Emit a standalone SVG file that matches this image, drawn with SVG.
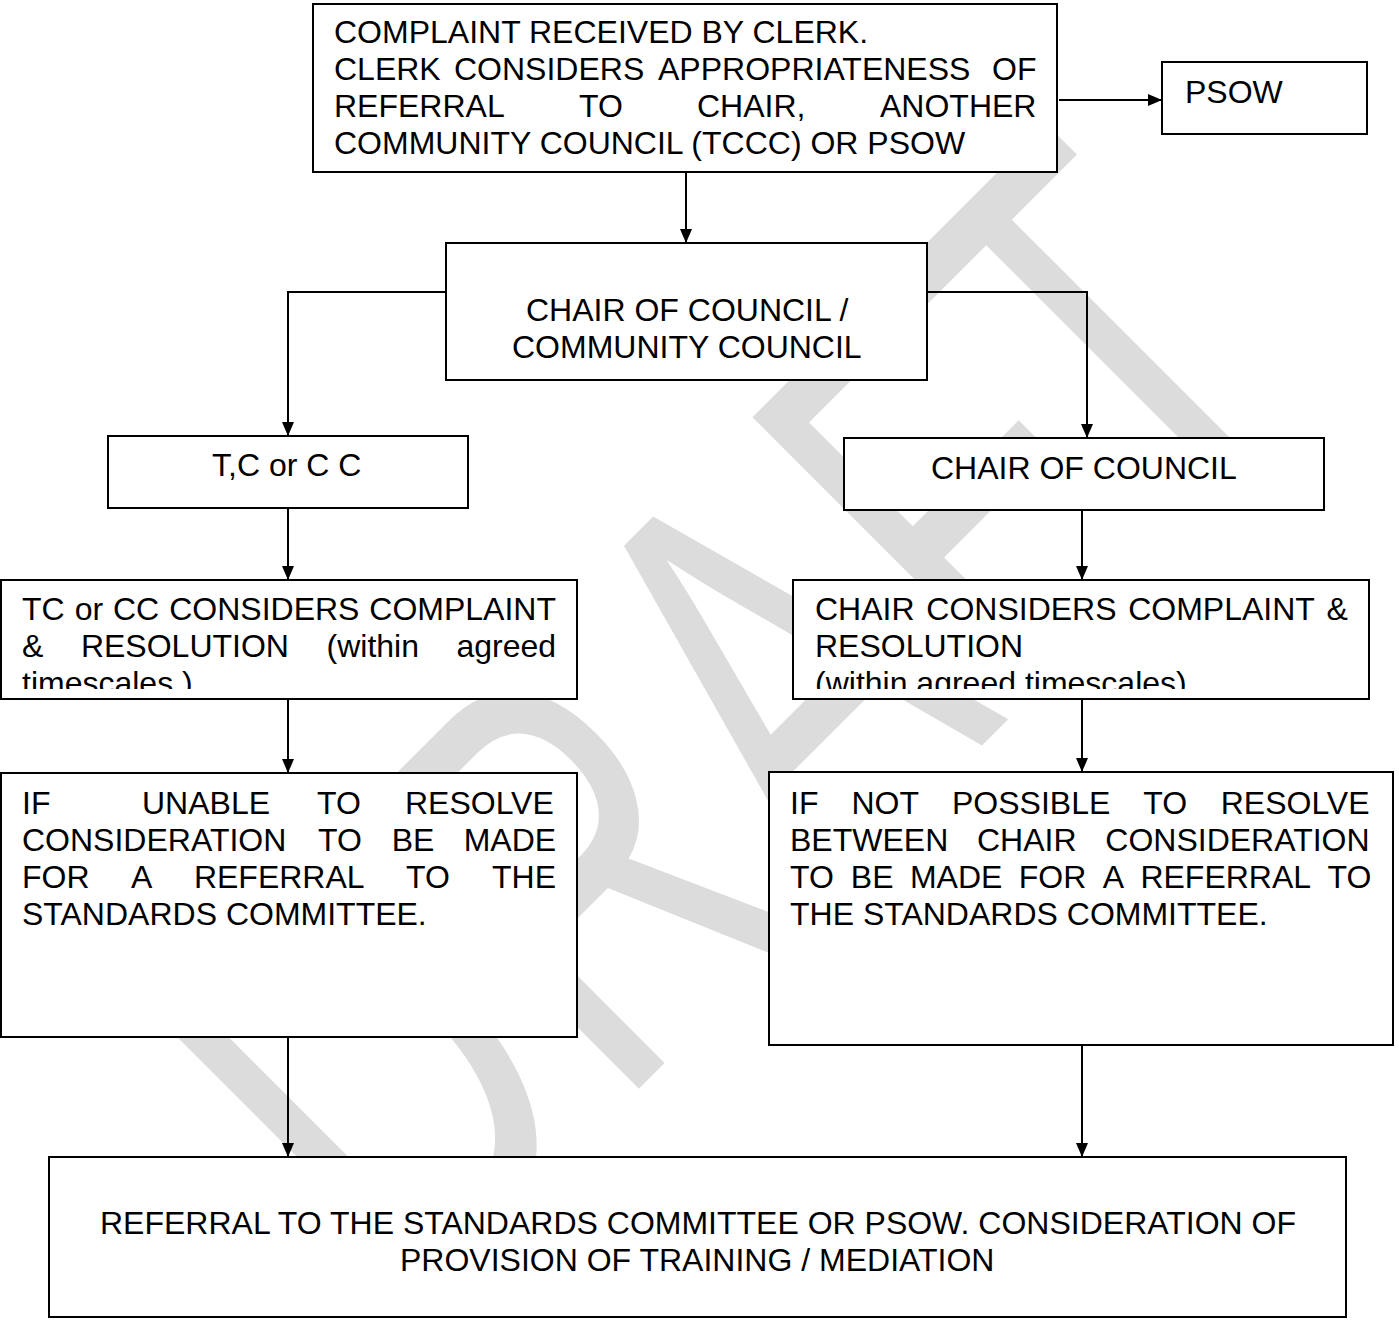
<svg xmlns="http://www.w3.org/2000/svg" width="1399" height="1326" viewBox="0 0 1399 1326">
<defs>
<style>
.box{fill:#fff;stroke:#000;stroke-width:2}
.t{font-family:"Liberation Sans",Arial,sans-serif;font-size:32px;fill:#000}
.c{fill:none;stroke:#000;stroke-width:2}
.wm{font-family:"Liberation Sans",Arial,sans-serif;font-size:390px;fill:#dcdcdc}
</style>
<marker id="ah" markerUnits="userSpaceOnUse" markerWidth="14" markerHeight="12" refX="14" refY="6" orient="auto"><path d="M0,0 L14,6 L0,12 z" fill="#000"/></marker>
<clipPath id="clipL"><rect x="0" y="580" width="578" height="109"/></clipPath>
<clipPath id="clipR"><rect x="793" y="580" width="577" height="109"/></clipPath>
</defs>
<rect width="1399" height="1326" fill="#fff"/>
<g id="watermark" transform="rotate(-45)"><text class="wm" transform="scale(1,1.47)" y="831"><tspan x="-640">D</tspan><tspan x="-350">R</tspan><tspan x="-55">A</tspan><tspan x="205">F</tspan><tspan x="423">T</tspan></text></g>
<g id="n-complaint"><rect class="box" x="313" y="4" width="744" height="168"/>
<text class="t" x="334" y="43">COMPLAINT RECEIVED BY CLERK.</text>
<text class="t" y="80"><tspan x="334">CLERK</tspan><tspan x="454">CONSIDERS</tspan><tspan x="658">APPROPRIATENESS</tspan><tspan x="992">OF</tspan></text>
<text class="t" y="117"><tspan x="334">REFERRAL</tspan><tspan x="579">TO</tspan><tspan x="697">CHAIR,</tspan><tspan x="880">ANOTHER</tspan></text>
<text class="t" x="334" y="154">COMMUNITY COUNCIL (TCCC) OR PSOW</text></g>
<g id="n-psow"><rect class="box" x="1162" y="62" width="205" height="72"/><text class="t" x="1185" y="103">PSOW</text></g>
<g id="n-chair-cc"><rect class="box" x="446" y="243" width="481" height="137"/>
<text class="t" x="526" y="321">CHAIR OF COUNCIL /</text><text class="t" x="512" y="358">COMMUNITY COUNCIL</text></g>
<g id="n-tccc"><rect class="box" x="108" y="436" width="360" height="72"/><text class="t" x="212" y="476">T,C or C C</text></g>
<g id="n-chair"><rect class="box" x="844" y="438" width="480" height="72"/><text class="t" x="931" y="479">CHAIR OF COUNCIL</text></g>
<g id="n-tc-considers"><rect class="box" x="1" y="580" width="576" height="119"/>
<g clip-path="url(#clipL)">
<text class="t" y="620"><tspan x="22">TC</tspan><tspan x="74.7">or</tspan><tspan x="113">CC</tspan><tspan x="169.2">CONSIDERS</tspan><tspan x="369.3">COMPLAINT</tspan></text>
<text class="t" y="657"><tspan x="22">&amp;</tspan><tspan x="80.9">RESOLUTION</tspan><tspan x="326.5">(within</tspan><tspan x="456.5">agreed</tspan></text>
<text class="t" x="22" y="694">timescales )</text></g></g>
<g id="n-chair-considers"><rect class="box" x="793" y="580" width="576" height="119"/>
<g clip-path="url(#clipR)">
<text class="t" y="620"><tspan x="815">CHAIR</tspan><tspan x="926.3">CONSIDERS</tspan><tspan x="1128.2">COMPLAINT</tspan><tspan x="1326.6">&amp;</tspan></text>
<text class="t" x="815" y="657">RESOLUTION</text>
<text class="t" x="815" y="694">(within agreed timescales)</text></g></g>
<g id="n-unable"><rect class="box" x="1" y="773" width="576" height="264"/>
<text class="t" y="814"><tspan x="22">IF</tspan><tspan x="142">UNABLE</tspan><tspan x="317">TO</tspan><tspan x="405">RESOLVE</tspan></text>
<text class="t" y="851"><tspan x="22">CONSIDERATION</tspan><tspan x="318">TO</tspan><tspan x="391.7">BE</tspan><tspan x="463.7">MADE</tspan></text>
<text class="t" y="888"><tspan x="22">FOR</tspan><tspan x="131.1">A</tspan><tspan x="193.9">REFERRAL</tspan><tspan x="406.1">TO</tspan><tspan x="492">THE</tspan></text>
<text class="t" x="22" y="925">STANDARDS COMMITTEE.</text></g>
<g id="n-not-possible"><rect class="box" x="769" y="772" width="624" height="273"/>
<text class="t" y="814"><tspan x="790">IF</tspan><tspan x="851.4">NOT</tspan><tspan x="952">POSSIBLE</tspan><tspan x="1143.3">TO</tspan><tspan x="1220.7">RESOLVE</tspan></text>
<text class="t" y="851"><tspan x="790">BETWEEN</tspan><tspan x="977">CHAIR</tspan><tspan x="1105.3">CONSIDERATION</tspan></text>
<text class="t" y="888"><tspan x="790">TO</tspan><tspan x="850.8">BE</tspan><tspan x="909.9">MADE</tspan><tspan x="1018.7">FOR</tspan><tspan x="1102.7">A</tspan><tspan x="1140.4">REFERRAL</tspan><tspan x="1327.5">TO</tspan></text>
<text class="t" x="790" y="925">THE STANDARDS COMMITTEE.</text></g>
<g id="n-referral"><rect class="box" x="49" y="1157" width="1297" height="160"/>
<text class="t" x="100" y="1234">REFERRAL TO THE STANDARDS COMMITTEE OR PSOW. CONSIDERATION OF</text>
<text class="t" x="400" y="1271">PROVISION OF TRAINING / MEDIATION</text></g>
<g id="connectors" class="c" marker-end="url(#ah)">
<path d="M686,172 V243"/>
<path d="M1059,100 H1162"/>
<path d="M446,292 H288 V436"/>
<path d="M927,292 H1087 V438"/>
<path d="M288,508 V580"/>
<path d="M1082,510 V580"/>
<path d="M288,699 V773"/>
<path d="M1082,699 V772"/>
<path d="M288,1037 V1157"/>
<path d="M1082,1045 V1157"/>
</g>
</svg>
